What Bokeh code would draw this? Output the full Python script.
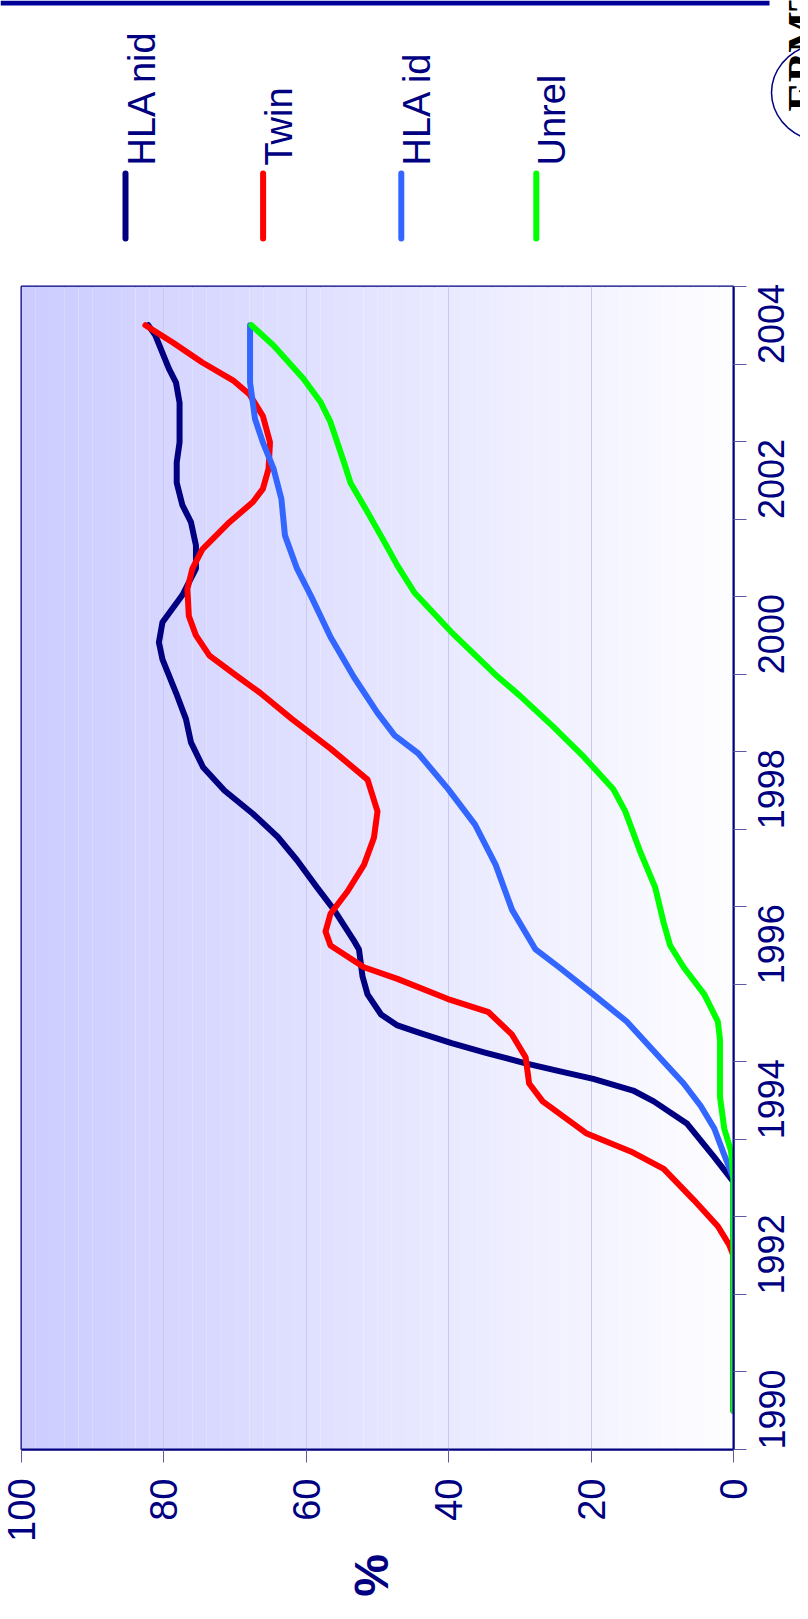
import math
from bokeh.plotting import figure
from bokeh.models import Range1d, FixedTicker
from bokeh.core.properties import value
from bokeh.embed import file_html
from bokeh.resources import INLINE

# ---------------- data ----------------
series_names = ["HLA nid", "Twin", "HLA id", "Unrel"]
series_colors = ["#000080", "#FF0000", "#3366FF", "#00FF00"]

year_ticks = [1990, 1992, 1994, 1996, 1998, 2000, 2002, 2004]
pct_ticks = [0, 20, 40, 60, 80, 100]

hla_nid_year = [1990.0, 1992.95, 1993.27, 1993.70, 1993.99, 1994.13, 1994.28, 1994.38, 1994.48,
                1994.62, 1994.74, 1994.88, 1994.97, 1995.11, 1995.37, 1995.60, 1995.95, 1996.06,
                1996.46, 1996.75, 1997.10, 1997.40, 1997.70, 1998.00, 1998.30, 1998.62, 1998.92,
                1999.26, 1999.69, 1999.91, 2000.17, 2000.52, 2000.86, 2001.16, 2001.46, 2001.68,
                2001.97, 2002.23, 2002.49, 2003.00, 2003.26, 2003.44, 2003.87, 2004.0]
hla_nid_pct = [0.0, 0.0, 2.7, 6.5, 11.2, 14.1, 19.7, 24.5, 29.2,
               34.9, 39.6, 44.3, 47.2, 49.5, 51.4, 52.1, 52.6, 53.3,
               56.1, 58.5, 61.3, 64.0, 67.5, 71.5, 74.5, 76.2, 76.9,
               78.3, 80.2, 80.7, 80.2, 77.4, 75.5, 75.5, 76.2, 77.4,
               78.2, 78.2, 77.8, 77.8, 78.3, 79.3, 81.2, 82.2]

twin_year = [1990.0, 1992.0, 1992.14, 1992.38, 1992.72, 1993.12, 1993.33, 1993.58, 1993.99,
             1994.22, 1994.56, 1994.85, 1995.14, 1995.31, 1995.57, 1995.72, 1996.00, 1996.18,
             1996.41, 1996.70, 1997.04, 1997.39, 1997.73, 1998.14, 1998.54, 1998.92, 1999.26,
             1999.48, 1999.74, 2000.00, 2000.25, 2000.60, 2000.86, 2001.11, 2001.46, 2001.72,
             2001.89, 2002.15, 2002.49, 2002.83, 2003.11, 2003.29, 2003.52, 2003.78, 2004.0]
twin_pct = [0.0, 0.0, 0.6, 2.2, 5.6, 9.8, 14.1, 20.7, 26.8,
            28.7, 29.2, 31.1, 34.4, 40.1, 47.2, 51.9, 56.6, 57.3,
            56.6, 54.2, 51.9, 50.5, 50.0, 51.4, 56.6, 62.0, 66.5,
            69.8, 73.6, 75.5, 76.5, 76.7, 76.0, 74.6, 70.8, 67.5,
            66.1, 65.3, 65.1, 66.1, 68.0, 70.3, 74.6, 78.8, 82.6]

hla_id_year = [1990.0, 1993.0, 1993.30, 1993.64, 1993.93, 1994.22, 1994.45, 1994.74, 1995.02,
               1995.37, 1995.72, 1995.95, 1996.46, 1997.04, 1997.56, 1998.02, 1998.48, 1998.71,
               1999.00, 1999.46, 1999.98, 2000.50, 2000.86, 2001.29, 2001.76, 2002.15, 2002.49,
               2002.79, 2003.26, 2004.0]
hla_id_pct = [0.0, 0.0, 1.3, 2.7, 4.6, 7.0, 9.3, 12.2, 15.0,
              19.7, 24.5, 27.8, 31.1, 33.4, 36.3, 40.1, 44.3, 47.6,
              50.0, 53.3, 56.6, 59.3, 61.3, 63.0, 63.5, 64.6, 66.1,
              67.2, 67.9, 67.9]

unrel_year = [1990.0, 1993.0, 1993.35, 1993.64, 1994.05, 1994.79, 1995.02, 1995.37, 1995.72,
              1996.00, 1996.29, 1996.75, 1997.21, 1997.73, 1998.02, 1998.45, 1998.83, 1999.23,
              1999.49, 2000.04, 2000.55, 2000.90, 2001.20, 2001.59, 2001.97, 2002.23, 2002.75,
              2003.01, 2003.31, 2003.74, 2004.0]
unrel_pct = [0.0, 0.0, 0.35, 1.3, 1.9, 1.9, 2.2, 4.1, 7.0,
             8.9, 9.8, 11.0, 13.1, 15.2, 16.9, 21.2, 25.4, 30.1,
             33.4, 39.6, 44.8, 47.2, 49.0, 51.4, 53.8, 54.7, 56.6,
             58.0, 60.4, 64.6, 67.7]

series_years = [hla_nid_year, twin_year, hla_id_year, unrel_year]
series_pcts = [hla_nid_pct, twin_pct, hla_id_pct, unrel_pct]

# ---------------- layout constants (page pixels) ----------------
NAVY = "#000080"
FONT = "Liberation Sans"
W = 800
TOP_H = 260          # page y 8 .. 268
MAIN_H = 1292        # page y 268 .. 1560
BOT_H = 45           # page y 1560 .. 1605
X0, X1 = 100.0, 0.0
Y0, Y1 = 1989.5, 2004.5


def strip(height):
    f = figure(width=W, height=height, x_range=Range1d(8, 8 + W), y_range=Range1d(0, height),
               x_axis_location=None, y_axis_location=None, min_border=0, min_border_left=0,
               min_border_right=0, min_border_top=0, min_border_bottom=0, title=None,
               output_backend="svg", toolbar_location=None)
    f.outline_line_color = None
    f.background_fill_color = "white"
    f.border_fill_color = "white"
    f.xgrid.visible = False
    f.ygrid.visible = False
    return f


# ---------- top strip: title bar, legend, logo ----------
pt = strip(TOP_H)


def ty(page_y):
    return 8 + TOP_H - page_y


pt.quad(left=[8], right=[777], top=[ty(8)], bottom=[ty(13)], fill_color="#000099", line_color=None)

leg_x = [133.0, 270.6, 408.8, 543.8]
pt.segment(x0=leg_x, y0=[ty(181)] * 4, x1=leg_x, y1=[ty(246)] * 4,
           line_color=series_colors, line_width=6, line_cap="round")
pt.text(x=[lx + 16 for lx in leg_x], y=[ty(173)] * 4, text=series_names, angle=math.pi / 2,
        text_align="left", text_baseline="alphabetic", text_font=value(FONT),
        text_font_size=value("38px"), text_color=NAVY)

# logo fragment (EBMT) at the right edge
ex = [835 + 56 * math.cos(t / 40.0 * 2 * math.pi) for t in range(41)]
ey = [ty(100 - 50 * math.sin(t / 40.0 * 2 * math.pi)) for t in range(41)]
pt.line(x=ex, y=ey, line_color=NAVY, line_width=1.5)
pt.text(x=[786], y=[ty(119)], text=["EBMT"], angle=math.pi / 2, text_align="left",
        text_baseline="top", text_font=value("Liberation Serif"), text_font_style="bold",
        text_font_size=value("44px"), text_color="black")

# ---------- main chart ----------
p = figure(width=W, height=MAIN_H, x_range=Range1d(X0, X1), y_range=Range1d(Y0, Y1),
           output_backend="svg", toolbar_location=None, y_axis_location="right", title=None,
           min_border_left=21, min_border_top=26, min_border_bottom=103, min_border_right=5)
p.background_fill_color = "white"
p.border_fill_color = "white"
p.outline_line_color = NAVY
p.outline_line_width = 2

# gradient background (styling)
nb = 50
lefts = [100.0 * i / nb for i in range(nb)]
rights = [100.0 * (i + 1) / nb for i in range(nb)]
cols = []
for i in range(nb):
    t = (i + 0.5) / nb
    r = int(round(253 - t * (253 - 204)))
    cols.append("#%02x%02x%02x" % (r, r, 255))
grad = p.quad(left=lefts, right=rights, bottom=Y0, top=Y1, fill_color=cols, line_color=None)
grad.level = "image"

p.xgrid.ticker = FixedTicker(ticks=[20, 40, 60, 80])
p.xgrid.grid_line_color = "#C8C8F2"
p.xgrid.grid_line_width = 1
p.ygrid.grid_line_color = None

for yrs, pcts, c in zip(series_years, series_pcts, series_colors):
    p.line(x=pcts, y=yrs, line_color=c, line_width=6, line_join="round", line_cap="round")

# right (year) axis: ticks on category boundaries; each label starts at the boundary
# below its year, so it reads upward across that year's slot
bounds = [Y0 + i for i in range(16)]
overrides = {b: "" for b in bounds}
for yt in year_ticks:
    overrides[yt - 0.5] = str(yt)
ya = p.yaxis[0]
ya.ticker = FixedTicker(ticks=bounds, minor_ticks=[])
ya.major_label_overrides = overrides
ya.major_tick_out = 13
ya.major_tick_in = 0
ya.major_tick_line_color = "#5A5AA8"
ya.axis_line_color = NAVY
ya.axis_line_width = 2
ya.major_label_text_font = FONT
ya.major_label_text_font_size = "36px"
ya.major_label_text_color = NAVY
ya.major_label_orientation = math.pi / 2
ya.major_label_standoff = 25

xa = p.xaxis[0]
xa.ticker = FixedTicker(ticks=pct_ticks, minor_ticks=[])
xa.major_tick_out = 13
xa.major_tick_in = 0
xa.major_tick_line_color = "#5A5AA8"
xa.axis_line_color = NAVY
xa.axis_line_width = 2
xa.major_label_text_font = FONT
xa.major_label_text_font_size = "38px"
xa.major_label_text_color = NAVY
xa.major_label_orientation = math.pi / 2
xa.major_label_standoff = 16

# ---------- bottom strip: "%" axis title ----------
pb = strip(BOT_H)


def by(page_y):
    return 8 + TOP_H + MAIN_H + BOT_H - page_y


pb.text(x=[379], y=[by(1583)], text=["%"], angle=math.pi / 2, text_align="center",
        text_baseline="middle", text_font=value(FONT), text_font_style="bold",
        text_font_size=value("48px"), text_color=NAVY)

open("out.html", "w").write(file_html([pt, p, pb], INLINE))
